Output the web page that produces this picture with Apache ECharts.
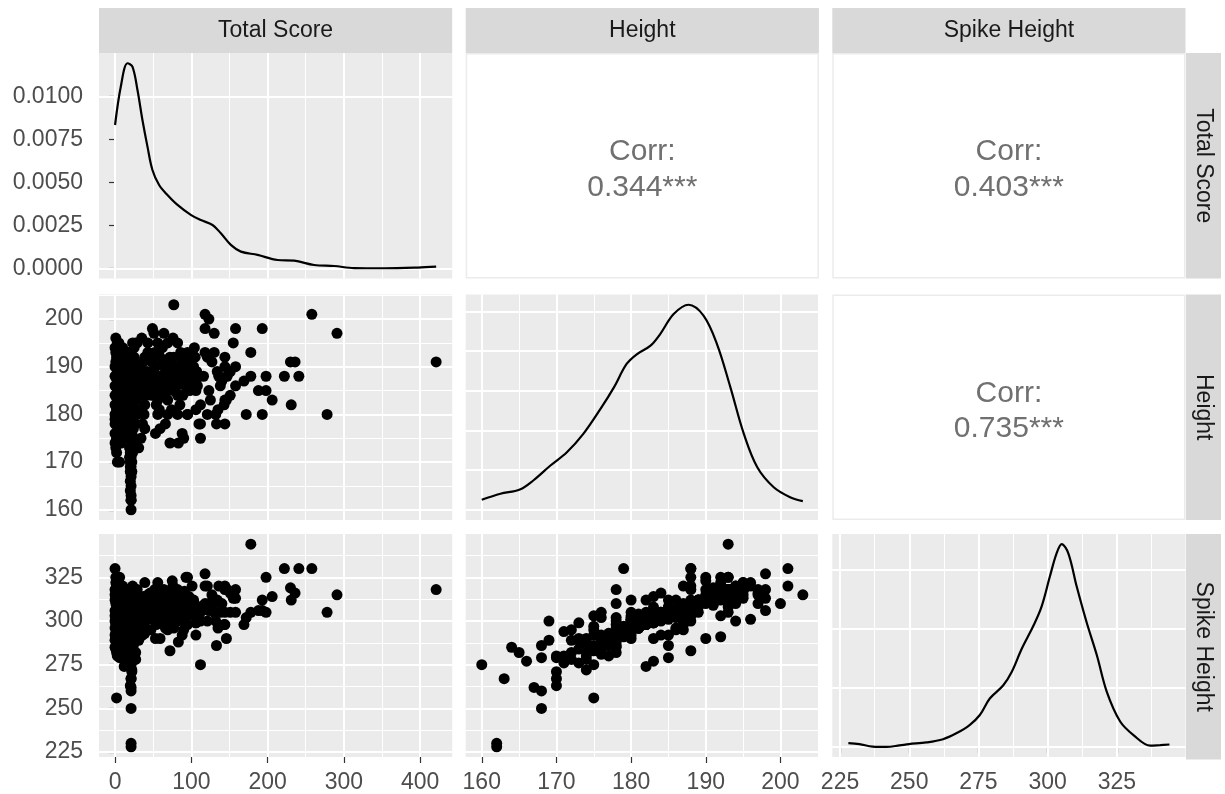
<!DOCTYPE html>
<html>
<head>
<meta charset="utf-8">
<title>Pairs plot: Total Score, Height, Spike Height</title>
<script src="https://cdn.jsdelivr.net/npm/echarts@6/dist/echarts.min.js"></script>
<style>
  html, body { margin: 0; padding: 0; background: #ffffff; }
  #chart { width: 1225px; height: 794px; }
</style>
</head>
<body>
<div id="chart"></div>
<script>
// ---- Variables ----
const variables = ['Total Score', 'Height', 'Spike Height'];

// ---- Players: total score, height (cm), spike height (cm), aligned by index ----
const totalScore = [
  421,291,278,258,241,236,231,230,222,206, 198,198,193,193,188,178,178,172,169,158,
  158,158,155,151,147,146,144,144,144,144, 140,136,134,133,132,130,130,127,125,123,
  123,121,121,118,118,118,116,112,112,112, 110,108,106,106,105,101,138,151,143,135,
  95,59,53,72,83,88,90,49,51,56, 69,82,95,38,29,43,56,69,82,95,
  101,104,95,101,106,77,82,84,43,56, 34,51,64,75,36,39,39,59,69,77,
  56,69,86,56,69,36,39,34,29,47, 77,45,93,60,65,73,80,88,92,98,
  62,48,54,85,90,66,74,44,52,33, 40,31,76,86,64,29,43,77,35,
  0,1,1,6,2,0,0,0,0,0, 1,1,1,1,2,2,2,2,2,3,
  3,3,3,3,4,4,4,4,5,5, 5,5,5,6,6,6,6,7,7,7,
  8,8,8,9,9,9,9,10,10,10, 11,11,11,12,12,12,13,13,13,14,
  14,14,15,15,15,15,16,16,16,16, 17,17,17,18,18,18,18,19,19,19,
  20,20,20,20,21,21,21,21,22,22, 22,23,23,23,24,24,24,25,25,25,
  26,26,27,27,27,28,28,30,30,31,
  21,21,21,21,20,21,20,21,21,22, 20,21,21,20,22,21,20,19,23,21,
  22,24,20,21,19,22,21,20,23,18,
  0,0,0,0,0,1,1,1,1,1, 2,2,2,2,3,3,3,3,3,4,
  4,4,4,5,5,5,6,6,6,6, 7,7,7,8,8,8,9,9,9,10,
  10,10,11,11,11,12,12,12,13,13, 14,14,14,15,15,16,16,16,17,17,
  18,18,18,19,19,19,20,20,20,21, 21,21,22,22,23,23,24,24,25,26,
  32,35,37,41,42,46,48,50,53,55, 57,61,63,67,70,72,75,79,81,84,
  87,89,91,94,97,100,103,107,63,58
];
const height = [
  191,197,180,201,188,191,182,191,188,183, 188,185,198,180,185,193,188,180,187,186,
  198,190,195,184,188,183,192,178,190,183, 187,188,189,178,180,197,193,191,183,200,
  185,180,192,201,198,193,188,175,182,178, 178,186,185,181,192,187,186,189,182,181,
  180,177,176,174,174,176,175,198,197,180, 180,180,180,180,180,193,195,195,195,193,
  193,194,189,188,187,185,184,184,185,185, 188,189,190,190,184,192,182,192,191,192,
  187,187,187,183,183,178,177,175,173,186, 186,188,190,188,185,189,190,191,186,185,
  194,191,182,182,188,178,181,186,193,190, 187,184,196,193,197,195,195,203,196,
  179,196,193,192,175,190,186,182,178,174, 188,184,180,176,194,190,186,181,172,191,
  187,183,178,170,193,189,185,177,195,188, 182,178,175,190,186,180,170,192,184,178,
  189,183,174,191,187,181,192,194,186,179, 190,183,176,188,180,182,192,185,178,189,
  182,183,193,187,180,185,190,184,177,185, 191,186,179,188,183,175,188,192,185,181,
  189,180,172,190,193,186,178,171,190,183, 176,195,187,180,191,184,177,188,182,194,
  190,185,195,178,174,187,183,188,181,173,
  160,162,162,163,164,165,166,167,168,168, 168,168,169,169,170,170,170,171,172,173,
  174,174,171,172,173,175,176,177,175,176,
  194,188,184,180,176,191,186,182,178,173, 192,188,184,179,195,189,185,181,176,191,
  187,183,180,192,186,180,194,188,183,177, 190,187,181,193,186,180,189,184,177,191,
  188,183,193,186,180,191,185,177,189,182, 192,186,179,190,183,193,187,181,189,183,
  192,185,179,188,183,177,193,186,182,190, 184,181,192,187,184,190,188,181,192,180,
  189,186,191,184,189,192,184,187,190,186, 193,186,191,189,185,192,187,188,186,190,
  189,184,192,187,191,186,190,189,184,181
];
const spikeHeight = [
  318,315,305,330,330,316,312,319,330,314, 325,305,306,312,306,344,305,302,298,305,
  318,313,313,316,318,290,320,298,318,305, 310,320,312,286,300,310,305,315,308,310,
  306,300,320,320,327,310,309,275,305,300, 302,304,292,299,303,320,305,305,298,296,
  298,290,290,283,288,292,295,313,316,301, 301,300,303,298,296,308,322,317,318,325,
  312,310,310,306,299,312,305,304,301,308, 305,310,310,323,292,322,300,312,317,318,
  301,295,301,305,300,295,293,292,290,295, 296,308,325,303,306,312,314,309,303,308,
  315,313,298,302,300,296,304,312,318,311, 306,300,320,316,318,318,315,315,301,
  330,322,325,325,256,315,306,300,292,285, 310,302,298,290,320,312,305,296,282,316,
  308,300,318,280,318,310,304,288,322,306, 299,310,286,314,303,295,279,318,301,290,
  312,305,280,315,307,298,291,320,302,293, 311,299,284,308,297,274,316,303,288,309,
  300,277,317,305,295,279,312,302,287,286, 314,306,292,309,301,283,283,315,304,296,
  310,290,278,290,318,304,285,276,312,300, 281,320,307,294,313,302,286,308,298,300,
  311,305,318,282,278,306,300,304,297,289,
  275,230,228,267,285,282,277,262,260,279, 286,250,289,300,271,267,263,280,295,276,
  272,290,294,289,299,297,302,280,303,305,
  318,312,303,296,289,314,306,300,293,284, 316,308,302,297,321,311,303,298,288,313,
  306,299,292,317,304,297,319,309,301,289, 312,306,296,317,304,294,311,301,287,314,
  309,300,318,305,296,313,302,286,310,298, 316,304,291,311,299,318,307,297,310,300,
  316,304,293,308,299,288,317,305,299,311, 301,297,315,307,302,312,309,296,314,295,
  309,305,314,303,312,316,305,308,313,306, 316,304,313,310,306,315,307,311,306,313,
  310,305,317,307,314,306,312,308,302,300
];

// ---- Pairwise correlations (upper panels) ----
const correlations = { scoreHeight: '0.344***', scoreSpike: '0.403***', heightSpike: '0.735***' };

// ---- Density curves (diagonal panels) ----
const scoreDensityX = [0, 7.5, 16.3, 22.8, 29.4, 35.9, 42.5, 49, 57.8, 68.7, 81.9, 99.3, 112.5,
  127.8, 138.7, 151.8, 165, 186.9, 213, 234.9, 261, 287.4, 313.6, 353, 396.8, 421];
const scoreDensityY = [0.00835, 0.01058, 0.01195, 0.01175, 0.01039, 0.00864, 0.00709, 0.00573,
  0.00485, 0.00427, 0.00369, 0.00311, 0.00281, 0.00252, 0.00204, 0.00136, 0.00097, 0.00078,
  0.00048, 0.00044, 0.00019, 0.00013, 0.00001, 0.0, 0.00004, 0.00009];

const heightDensityX = [160, 162.5, 165.1, 166.9, 169.2, 171.4, 173.6, 175.9, 177.7, 179.4, 180.8,
  182.6, 183.9, 185.7, 187.7, 189.7, 191.5, 193.3, 195.1, 196.9, 199.1, 201.3, 203];
const heightDensityY = [0.00252, 0.00403, 0.00511, 0.00738, 0.01116, 0.01451, 0.01915, 0.02545,
  0.03089, 0.03678, 0.0393, 0.0414, 0.04434, 0.04938, 0.05173, 0.04896, 0.04182, 0.03089,
  0.01915, 0.01073, 0.00569, 0.00317, 0.00217];

const spikeDensityX = [228, 232, 236.8, 241.7, 246.5, 249.9, 256.2, 262.2, 267, 271.8, 275.5, 279.1,
  283.9, 287, 290.6, 294.8, 297.8, 300.8, 303.2, 305.1, 307.5, 310.5, 314.1, 317.8, 321.4, 326.2,
  331, 337.1, 340.7, 344];
const spikeDensityY = [0.00064, 0.00047, 0.00005, 0.0, 0.00025, 0.00047, 0.00075, 0.0013, 0.0023,
  0.0037, 0.0054, 0.0082, 0.0104, 0.0127, 0.0166, 0.0205, 0.0238, 0.0289, 0.0328, 0.0344, 0.0328,
  0.0272, 0.0211, 0.0155, 0.0093, 0.0043, 0.0020, 0.0002, 0.0003, 0.0004];

// ---- Axis breaks (major / minor) ----
const scoreBreaks = [0, 100, 200, 300, 400];
const scoreMinor = [50, 150, 250, 350];
const heightBreaks = [160, 170, 180, 190, 200];
const heightMinor = [165, 175, 185, 195, 205];
const spikeBreaks = [225, 250, 275, 300, 325];
const spikeMinor = [237.5, 262.5, 287.5, 312.5, 337.5];
const scoreDensBreaks = [0, 0.0025, 0.005, 0.0075, 0.01];
const scoreDensMinor = [0.00125, 0.00375, 0.00625, 0.00875, 0.01125];
const heightDensBreaks = [0, 0.01, 0.02, 0.03, 0.04, 0.05];
const heightDensMinor = [0.005, 0.015, 0.025, 0.035, 0.045];
const spikeDensBreaks = [0, 0.01, 0.02, 0.03];
const spikeDensMinor = [0.005, 0.015, 0.025, 0.035];

// ---- Layout ----
const colLeft = [99, 465.7, 832.3];
const rowTop = [53, 294.5, 534];
const panelW = 353.2;
const panelH = 225.5;
const stripTop = 8;
const stripH = 45;
const sideStripLeft = 1186;
const sideStripW = 35;

const FONT = "'Liberation Sans', Arial, Helvetica, sans-serif";
const PANEL_BG = '#EBEBEB';
const STRIP_BG = '#D9D9D9';

// ggplot-style range: data extent padded by 5% on both sides
function padRange(values, includeZero) {
  let lo = Math.min.apply(null, values);
  let hi = Math.max.apply(null, values);
  if (includeZero) { lo = Math.min(lo, 0); }
  const pad = (hi - lo) * 0.05;
  return [lo - pad, hi + pad];
}
const scoreRange = padRange(totalScore);
const heightRange = padRange(height);
const spikeRange = padRange(spikeHeight);
const scoreDensRange = padRange(scoreDensityY, true);
const heightDensRange = padRange(heightDensityY, true);
const spikeDensRange = padRange(spikeDensityY, true);

function zip(a, b) { return a.map((v, i) => [v, b[i]]); }

// panel grid: [row, col]
const panels = [[0, 0], [1, 0], [1, 1], [2, 0], [2, 1], [2, 2]];
const grids = panels.map(([r, c]) => ({
  left: colLeft[c], top: rowTop[r], width: panelW, height: panelH,
  show: true, backgroundColor: PANEL_BG, borderWidth: 0, containLabel: false
}));

function valueAxis(gridIndex, range, breaks, showLabels, formatter, isX) {
  return {
    type: 'value', gridIndex: gridIndex,
    min: range[0], max: range[1],
    position: isX ? 'bottom' : 'left',
    axisLine: { show: false },
    splitLine: { show: false },
    axisTick: {
      show: showLabels, customValues: breaks, length: 6,
      lineStyle: { color: '#333333', width: 1.2 }
    },
    axisLabel: {
      show: showLabels, customValues: breaks,
      margin: isX ? 14 : 16,
      fontSize: 23, color: '#4D4D4D', fontFamily: FONT,
      formatter: formatter || (v => String(v))
    }
  };
}
const densFmt = v => v.toFixed(4);

const xAxes = [
  valueAxis(0, scoreRange, scoreBreaks, false, null, true),
  valueAxis(1, scoreRange, scoreBreaks, false, null, true),
  valueAxis(2, heightRange, heightBreaks, false, null, true),
  valueAxis(3, scoreRange, scoreBreaks, true, null, true),
  valueAxis(4, heightRange, heightBreaks, true, null, true),
  valueAxis(5, spikeRange, spikeBreaks, true, null, true)
];
const yAxes = [
  valueAxis(0, scoreDensRange, scoreDensBreaks, true, densFmt, false),
  valueAxis(1, heightRange, heightBreaks, true, null, false),
  valueAxis(2, heightDensRange, heightDensBreaks, false, null, false),
  valueAxis(3, spikeRange, spikeBreaks, true, null, false),
  valueAxis(4, spikeRange, spikeBreaks, false, null, false),
  valueAxis(5, spikeDensRange, spikeDensBreaks, false, null, false)
];

// white panel grid lines, drawn under the data
function gridLines(xMajor, xMinor, yMajor, yMinor) {
  const data = [];
  xMinor.forEach(v => data.push({ xAxis: v, lineStyle: { width: 1 } }));
  yMinor.forEach(v => data.push({ yAxis: v, lineStyle: { width: 1 } }));
  xMajor.forEach(v => data.push({ xAxis: v, lineStyle: { width: 2 } }));
  yMajor.forEach(v => data.push({ yAxis: v, lineStyle: { width: 2 } }));
  return {
    silent: true, z: 1, animation: false,
    symbol: ['none', 'none'],
    label: { show: false },
    emphasis: { disabled: true },
    lineStyle: { color: '#FFFFFF', type: 'solid', opacity: 1 },
    data: data
  };
}

function densitySeries(idx, xs, ys, lines) {
  return {
    type: 'line', xAxisIndex: idx, yAxisIndex: idx,
    data: zip(xs, ys), smooth: 0.35, showSymbol: false, symbol: 'none',
    lineStyle: { color: '#000000', width: 2.2 },
    silent: true, animation: false, z: 3,
    markLine: lines
  };
}
function scatterSeries(idx, xs, ys, lines) {
  return {
    type: 'scatter', xAxisIndex: idx, yAxisIndex: idx,
    data: zip(xs, ys), symbol: 'circle', symbolSize: 11,
    itemStyle: { color: '#000000', opacity: 1 },
    silent: true, animation: false, z: 3,
    markLine: lines
  };
}

const series = [
  densitySeries(0, scoreDensityX, scoreDensityY,
    gridLines(scoreBreaks, scoreMinor, scoreDensBreaks, scoreDensMinor)),
  scatterSeries(1, totalScore, height,
    gridLines(scoreBreaks, scoreMinor, heightBreaks, heightMinor)),
  densitySeries(2, heightDensityX, heightDensityY,
    gridLines(heightBreaks, heightMinor, heightDensBreaks, heightDensMinor)),
  scatterSeries(3, totalScore, spikeHeight,
    gridLines(scoreBreaks, scoreMinor, spikeBreaks, spikeMinor)),
  scatterSeries(4, height, spikeHeight,
    gridLines(heightBreaks, heightMinor, spikeBreaks, spikeMinor)),
  densitySeries(5, spikeDensityX, spikeDensityY,
    gridLines(spikeBreaks, spikeMinor, spikeDensBreaks, spikeDensMinor))
];

// ---- Strips and correlation panels ----
const graphics = [];
variables.forEach((name, i) => {
  // top strip
  graphics.push({
    type: 'rect', silent: true, z: 0,
    shape: { x: colLeft[i], y: stripTop, width: panelW, height: stripH },
    style: { fill: STRIP_BG }
  });
  graphics.push({
    type: 'text', silent: true, z: 1,
    x: colLeft[i] + panelW / 2, y: stripTop + stripH / 2,
    style: {
      text: name, fill: '#1A1A1A', font: '23px ' + FONT,
      textAlign: 'center', textVerticalAlign: 'middle', align: 'center', verticalAlign: 'middle'
    }
  });
  // right strip
  graphics.push({
    type: 'rect', silent: true, z: 0,
    shape: { x: sideStripLeft, y: rowTop[i], width: sideStripW, height: panelH },
    style: { fill: STRIP_BG }
  });
  graphics.push({
    type: 'text', silent: true, z: 1,
    x: sideStripLeft + sideStripW / 2, y: rowTop[i] + panelH / 2,
    rotation: -Math.PI / 2,
    style: {
      text: name, fill: '#1A1A1A', font: '23px ' + FONT,
      textAlign: 'center', textVerticalAlign: 'middle', align: 'center', verticalAlign: 'middle'
    }
  });
});

const corrPanels = [
  { r: 0, c: 1, value: correlations.scoreHeight },
  { r: 0, c: 2, value: correlations.scoreSpike },
  { r: 1, c: 2, value: correlations.heightSpike }
];
corrPanels.forEach(p => {
  const x = colLeft[p.c], y = rowTop[p.r];
  const cx = x + panelW / 2, cy = y + panelH / 2;
  graphics.push({
    type: 'rect', silent: true, z: 0,
    shape: { x: x + 0.75, y: y + 0.75, width: panelW - 1.5, height: panelH - 1.5 },
    style: { fill: '#FFFFFF', stroke: '#EBEBEB', lineWidth: 1.5 }
  });
  [['Corr:', -14], [p.value, 21.5]].forEach(([txt, dy]) => {
    graphics.push({
      type: 'text', silent: true, z: 1,
      x: cx, y: cy + dy,
      style: {
        text: txt, fill: '#707070', font: '30px ' + FONT,
        textAlign: 'center', textVerticalAlign: 'middle', align: 'center', verticalAlign: 'middle'
      }
    });
  });
});

const chart = echarts.init(document.getElementById('chart'), null, { renderer: 'canvas', width: 1225, height: 794 });
chart.setOption({
  backgroundColor: '#FFFFFF',
  animation: false,
  grid: grids,
  xAxis: xAxes,
  yAxis: yAxes,
  series: series,
  graphic: { elements: graphics }
});
</script>
</body>
</html>
